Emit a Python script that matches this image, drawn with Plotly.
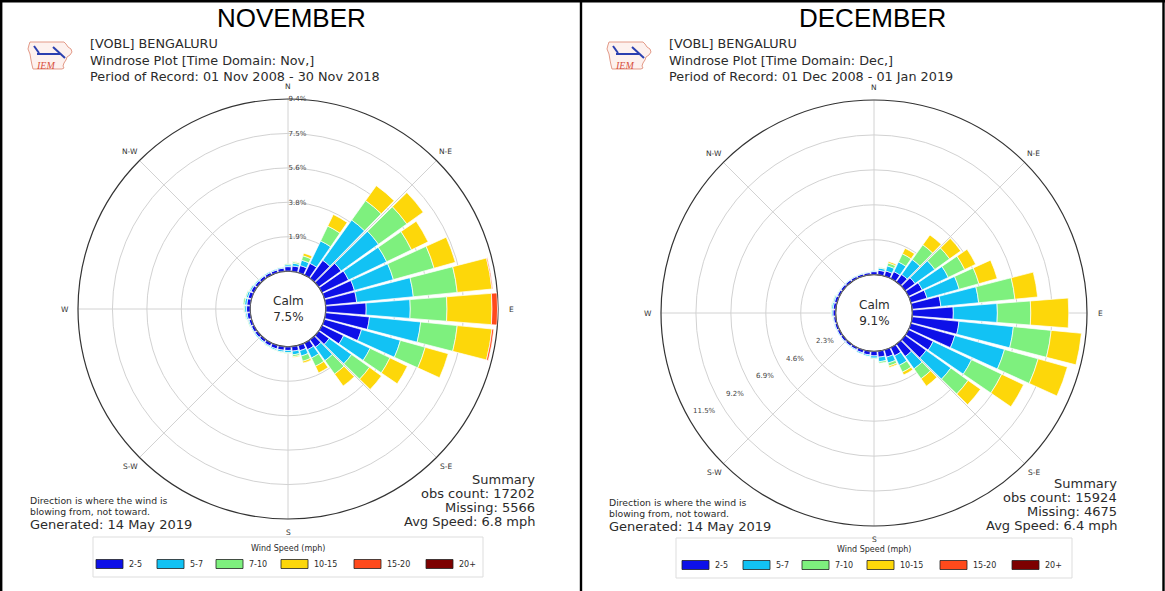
import math
import plotly.graph_objects as go

W, H = 1165, 591

# ---------------- data ----------------
directions = [0, 10, 20, 30, 40, 50, 60, 70, 80, 90, 100, 110, 120, 130, 140, 150, 160, 170,
              180, 190, 200, 210, 220, 230, 240, 250, 260, 270, 280, 290, 300, 310, 320, 330, 340, 350]
speed_bins = ["2-5", "5-7", "7-10", "10-15", "15-20", "20+"]
bin_colors = ["#0d10e8", "#12c2f4", "#7ef07e", "#fdd70a", "#ff4a1c", "#7d0000"]
compass_angles = [0, 45, 90, 135, 180, 225, 270, 315]
compass_labels = ["N", "N-E", "E", "S-E", "S", "S-W", "W", "N-W"]

# November frequencies (% of observations) per direction, by speed bin (mph)
nov_2_5 = [0.25, 0.30, 0.40, 0.70, 1.20, 1.50, 1.60, 1.70, 1.70, 2.20, 2.40, 2.10, 1.30, 0.70, 0.50, 0.40, 0.30, 0.25,
           0.20, 0.20, 0.20, 0.18, 0.15, 0.15, 0.15, 0.15, 0.18, 0.20, 0.20, 0.20, 0.18, 0.15, 0.15, 0.15, 0.15, 0.18]
nov_5_7 = [0.10, 0.15, 0.30, 1.35, 2.70, 2.50, 2.30, 2.20, 3.10, 2.40, 2.80, 2.20, 1.60, 1.50, 0.90, 0.50, 0.30, 0.20,
           0.12, 0.10, 0.08, 0.06, 0.05, 0.05, 0.05, 0.06, 0.08, 0.10, 0.12, 0.10, 0.08, 0.06, 0.05, 0.05, 0.05, 0.06]
nov_7_10 = [0.05, 0.08, 0.25, 0.90, 1.30, 1.90, 1.50, 2.30, 2.40, 2.00, 2.00, 1.40, 1.20, 1.20, 0.90, 0.50, 0.30, 0.10,
            0.05, 0.03, 0.02, 0.02, 0.00, 0.00, 0.02, 0.03, 0.04, 0.05, 0.08, 0.05, 0.03, 0.02, 0.02, 0.00, 0.00, 0.02]
nov_10_15 = [0.00, 0.02, 0.15, 0.70, 1.00, 1.10, 1.00, 1.20, 1.90, 2.45, 1.90, 1.30, 1.05, 0.80, 0.80, 0.40, 0.10, 0.05,
             0.00, 0.00, 0.00, 0.00, 0.00, 0.00, 0.00, 0.00, 0.00, 0.00, 0.00, 0.00, 0.00, 0.00, 0.00, 0.00, 0.00, 0.00]
nov_15_20 = [0.00, 0.00, 0.00, 0.00, 0.00, 0.00, 0.00, 0.00, 0.05, 0.30, 0.10, 0.00, 0.00, 0.00, 0.00, 0.00, 0.00, 0.00,
             0.00, 0.00, 0.00, 0.00, 0.00, 0.00, 0.00, 0.00, 0.00, 0.00, 0.00, 0.00, 0.00, 0.00, 0.00, 0.00, 0.00, 0.00]
nov_20_up = [0.00, 0.00, 0.00, 0.00, 0.00, 0.00, 0.00, 0.00, 0.00, 0.00, 0.00, 0.00, 0.00, 0.00, 0.00, 0.00, 0.00, 0.00,
             0.00, 0.00, 0.00, 0.00, 0.00, 0.00, 0.00, 0.00, 0.00, 0.00, 0.00, 0.00, 0.00, 0.00, 0.00, 0.00, 0.00, 0.00]

# December frequencies (% of observations) per direction, by speed bin (mph)
dec_2_5 = [0.20, 0.30, 0.35, 0.50, 0.60, 0.80, 1.00, 1.10, 1.90, 2.70, 3.10, 3.00, 1.80, 1.70, 1.00, 0.60, 0.50, 0.40,
           0.30, 0.25, 0.20, 0.15, 0.15, 0.15, 0.15, 0.15, 0.15, 0.18, 0.18, 0.18, 0.15, 0.15, 0.15, 0.15, 0.15, 0.15]
dec_5_7 = [0.05, 0.15, 0.35, 0.70, 1.20, 1.60, 1.90, 2.20, 2.50, 2.90, 3.60, 3.40, 2.80, 2.00, 1.00, 0.70, 0.40, 0.30,
           0.15, 0.10, 0.08, 0.05, 0.04, 0.04, 0.04, 0.05, 0.06, 0.08, 0.10, 0.08, 0.05, 0.04, 0.04, 0.04, 0.04, 0.04]
dec_7_10 = [0.00, 0.05, 0.20, 0.60, 1.20, 1.20, 1.20, 1.35, 2.40, 2.20, 2.50, 2.30, 2.20, 1.40, 0.80, 0.50, 0.20, 0.10,
            0.05, 0.02, 0.00, 0.00, 0.00, 0.00, 0.00, 0.00, 0.02, 0.04, 0.05, 0.04, 0.02, 0.00, 0.00, 0.00, 0.00, 0.00]
dec_10_15 = [0.00, 0.00, 0.10, 0.40, 0.80, 0.90, 0.80, 1.25, 1.50, 2.50, 2.00, 2.00, 1.60, 1.00, 0.60, 0.20, 0.10, 0.00,
             0.00, 0.00, 0.00, 0.00, 0.00, 0.00, 0.00, 0.00, 0.00, 0.00, 0.00, 0.00, 0.00, 0.00, 0.00, 0.00, 0.00, 0.00]
dec_15_20 = [0.00, 0.00, 0.00, 0.00, 0.00, 0.00, 0.00, 0.00, 0.00, 0.00, 0.00, 0.00, 0.00, 0.00, 0.00, 0.00, 0.00, 0.00,
             0.00, 0.00, 0.00, 0.00, 0.00, 0.00, 0.00, 0.00, 0.00, 0.00, 0.00, 0.00, 0.00, 0.00, 0.00, 0.00, 0.00, 0.00]
dec_20_up = [0.00, 0.00, 0.00, 0.00, 0.00, 0.00, 0.00, 0.00, 0.00, 0.00, 0.00, 0.00, 0.00, 0.00, 0.00, 0.00, 0.00, 0.00,
             0.00, 0.00, 0.00, 0.00, 0.00, 0.00, 0.00, 0.00, 0.00, 0.00, 0.00, 0.00, 0.00, 0.00, 0.00, 0.00, 0.00, 0.00]

nov_ring_vals = [1.875, 3.75, 5.625, 7.5, 9.375]
nov_ring_text = ["1.9%", "3.8%", "5.6%", "7.5%", "9.4%"]
dec_ring_vals = [2.3, 4.6, 6.9, 9.2, 11.5]
dec_ring_text = ["2.3%", "4.6%", "6.9%", "9.2%", "11.5%"]

panel_titles = ["NOVEMBER", "DECEMBER"]
header_nov = ["[VOBL] BENGALURU", "Windrose Plot [Time Domain: Nov,]",
              "Period of Record: 01 Nov 2008 - 30 Nov 2018"]
header_dec = ["[VOBL] BENGALURU", "Windrose Plot [Time Domain: Dec,]",
              "Period of Record: 01 Dec 2008 - 01 Jan 2019"]
calm_nov, calm_dec = "7.5%", "9.1%"
summary_nov = ["Summary", "obs count: 17202", "Missing: 5566", "Avg Speed: 6.8 mph"]
summary_dec = ["Summary", "obs count: 15924", "Missing: 4675", "Avg Speed: 6.4 mph"]
note_lines = ["Direction is where the wind is", "blowing from, not toward."]
generated_text = "Generated: 14 May 2019"
legend_title = "Wind Speed (mph)"

# ---------------- helpers ----------------
FONT = "DejaVu Sans"
HOLE = 0.18


def px(x):
    return x / W


def py(y):
    return 1 - y / H


fig = go.Figure()
shapes = []
annotations = []


def text(x, y, s, size, anchor="left", color="#2b2b2b", family=FONT, **kw):
    annotations.append(dict(x=px(x), y=py(y), xref="paper", yref="paper", text=s, showarrow=False,
                            xanchor=anchor, yanchor="middle", font=dict(size=size, color=color, family=family),
                            **kw))


def add_rose(subplot, bins):
    for vals, name, color in zip(bins, speed_bins, bin_colors):
        fig.add_trace(go.Barpolar(r=vals, theta=directions, name=name, subplot=subplot,
                                  marker=dict(color=color, line=dict(color="white", width=0.7)),
                                  showlegend=False))
    # calm circle at the inner edge of the radial axis
    ring_theta = list(range(0, 361, 3))
    fig.add_trace(go.Scatterpolar(r=[0] * len(ring_theta), theta=ring_theta, mode="lines", subplot=subplot,
                                  line=dict(color="#555555", width=1.1), showlegend=False, hoverinfo="skip"))


def polar_cfg(cx, cy, R, rmax, ring_vals, ring_text, label_angle, label_tilt, show_labels):
    return dict(
        domain=dict(x=[px(cx - R), px(cx + R)], y=[py(cy + R), py(cy - R)]),
        hole=HOLE,
        bgcolor="white",
        bargap=0.12,
        barmode="stack",
        radialaxis=dict(range=[0, rmax], tickvals=ring_vals, ticktext=ring_text, angle=label_angle,
                        tickangle=label_tilt, showticklabels=show_labels, showline=False, ticks="",
                        gridcolor="#d2d2d2", gridwidth=1,
                        tickfont=dict(size=7, color="#444444", family=FONT), layer="below traces"),
        angularaxis=dict(rotation=90, direction="clockwise", tickmode="array", tickvals=compass_angles,
                         showticklabels=False, showline=True, linecolor="#333333", linewidth=1.2,
                         gridcolor="#d2d2d2", gridwidth=1, ticks="", layer="below traces"),
    )


def logo(x0, y0):
    pts = [(4, 2), (38, 2), (40, 4), (42, 7), (45, 9), (46, 12), (44, 15), (41, 17), (40, 20), (38, 23),
           (37, 26), (38, 28), (36, 29), (7, 29), (6, 25), (5, 20), (4, 14), (2, 9), (3, 5)]
    path = "M " + " L ".join(f"{px(x0 + a):.5f},{py(y0 + b):.5f}" for a, b in pts) + " Z"
    shapes.append(dict(type="path", path=path, xref="paper", yref="paper", fillcolor="#fdf1ee",
                       line=dict(color="#e39a88", width=1), layer="below"))
    for (a1, b1, a2, b2) in [(8, 6, 13, 13), (11, 14, 34, 14), (27, 7, 39, 18)]:
        shapes.append(dict(type="line", xref="paper", yref="paper", x0=px(x0 + a1), y0=py(y0 + b1),
                           x1=px(x0 + a2), y1=py(y0 + b2), line=dict(color="#2a3fb0", width=2)))
    text(x0 + 8, y0 + 25, "<i>IEM</i>", 10, color="#d8503c", family="Liberation Serif")


def compass(cx, cy, R):
    for ang, lab in zip(compass_angles, compass_labels):
        rr = R + 13
        text(cx + rr * math.sin(math.radians(ang)), cy - rr * math.cos(math.radians(ang)), lab, 7.5,
             anchor="center", color="#333333")


def ring_labels(cx, cy, R, vals, labels, rmax, screen_angle, inset):
    # percentage labels laid along a ray, just inside each ring
    hole_px = HOLE * R
    for v, lab in zip(vals, labels):
        rr = hole_px + v / rmax * (R - hole_px) - inset
        text(cx + rr * math.cos(math.radians(screen_angle)), cy - rr * math.sin(math.radians(screen_angle)),
             lab, 7, anchor="center", color="#444444")


def panel(cx, cy, R, left, right, title, header, calm, summary, note_y, summary_y, legend_y, legend_half):
    text((left + right) / 2, 18, title, 26, anchor="center", color="#000000", family="Liberation Sans")
    logo(left + 24, 40)
    text(left + 86, 60, "<br>".join(header), 12.8, align="left")
    compass(cx, cy, R)
    text(cx, cy, "Calm<br>" + calm, 12, anchor="center")
    # note and timestamp, lower left
    text(left + 26, note_y, note_lines[0], 9.3)
    text(left + 26, note_y + 11, note_lines[1], 9.3)
    text(left + 26, note_y + 24, generated_text, 13)
    # summary, lower right
    for i, line in enumerate(summary):
        text(right - 44, summary_y + 14 * i, line, 13, anchor="right")
    # legend box
    shapes.append(dict(type="rect", xref="paper", yref="paper", x0=px(cx - legend_half), x1=px(cx + legend_half),
                       y0=py(legend_y - 27), y1=py(legend_y + 13), line=dict(color="#dddddd", width=1),
                       fillcolor="white"))
    text(cx, legend_y - 16, legend_title, 8, anchor="center")
    offsets = [-192, -131, -72, -7, 66, 138]
    for off, name, color in zip(offsets, speed_bins, bin_colors):
        shapes.append(dict(type="rect", xref="paper", yref="paper", x0=px(cx + off), x1=px(cx + off + 27),
                           y0=py(legend_y + 4.5), y1=py(legend_y - 4.5), fillcolor=color,
                           line=dict(color="#222222", width=0.8)))
        text(cx + off + 31, legend_y, name, 8)


# ---------------- build ----------------
add_rose("polar", [nov_2_5, nov_5_7, nov_7_10, nov_10_15, nov_15_20, nov_20_up])
add_rose("polar2", [dec_2_5, dec_5_7, dec_7_10, dec_10_15, dec_15_20, dec_20_up])

NOV_C, NOV_R = (288, 309), 210
DEC_C, DEC_R = (874, 313), 213
polar1 = polar_cfg(NOV_C[0], NOV_C[1], NOV_R, nov_ring_vals[-1], nov_ring_vals, nov_ring_text, 90, 90, True)
polar2 = polar_cfg(DEC_C[0], DEC_C[1], DEC_R, dec_ring_vals[-1], dec_ring_vals, dec_ring_text, 210, -150, False)
ring_labels(DEC_C[0], DEC_C[1], DEC_R, dec_ring_vals, dec_ring_text, dec_ring_vals[-1], 210, 17)

panel(NOV_C[0], NOV_C[1], NOV_R, 2, 581, panel_titles[0], header_nov, calm_nov, summary_nov,
      500, 479, 564, 195)
panel(DEC_C[0], DEC_C[1], DEC_R, 581, 1163, panel_titles[1], header_dec, calm_dec, summary_dec,
      502, 483, 565, 198)

# table rules around the two panels
for (x0, y0, x1, y1) in [(0, 1.2, W, 1.2), (1.2, 0, 1.2, H), (581, 0, 581, H), (1163.5, 0, 1163.5, H)]:
    shapes.append(dict(type="line", xref="paper", yref="paper", x0=px(x0), y0=py(y0), x1=px(x1), y1=py(y1),
                       line=dict(color="#000000", width=2.4)))

fig.update_layout(
    width=W, height=H, margin=dict(l=0, r=0, t=0, b=0),
    paper_bgcolor="white", plot_bgcolor="white",
    polar=polar1, polar2=polar2,
    shapes=shapes, annotations=annotations,
    showlegend=False,
)

fig.write_html("out.html")
